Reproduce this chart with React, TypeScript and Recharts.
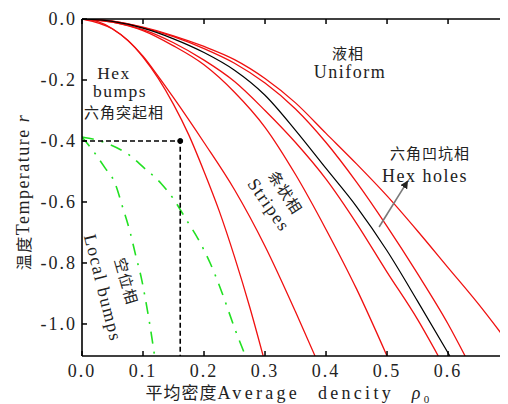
import { LineChart, Line, XAxis, YAxis, ReferenceDot } from "recharts";

// axis ticks
const xTicks = [0, 0.1, 0.2, 0.3, 0.4, 0.5, 0.6];
const yTicks = [0, -0.2, -0.4, -0.6, -0.8, -1.0];

// phase boundaries [rho0, r]
const red1 = [[0, 0], [0.025, -0.008], [0.05, -0.032], [0.075, -0.07], [0.1, -0.125], [0.125, -0.195], [0.15, -0.28], [0.175, -0.38], [0.2, -0.5], [0.225, -0.63], [0.25, -0.78], [0.275, -0.945], [0.297, -1.105]];
const red2 = [[0, 0], [0.05, -0.033], [0.1, -0.122], [0.125, -0.188], [0.15, -0.258], [0.2, -0.405], [0.25, -0.56], [0.3, -0.745], [0.35, -0.96], [0.382, -1.105]];
const red3 = [[0, 0], [0.05, -0.01], [0.1, -0.038], [0.15, -0.088], [0.2, -0.15], [0.25, -0.24], [0.3, -0.355], [0.35, -0.51], [0.4, -0.69], [0.45, -0.885], [0.5, -1.105]];
const red4 = [[0, 0], [0.05, -0.01], [0.1, -0.035], [0.15, -0.078], [0.2, -0.135], [0.25, -0.205], [0.3, -0.3], [0.35, -0.405], [0.4, -0.525], [0.45, -0.67], [0.5, -0.83], [0.55, -0.985], [0.584, -1.105]];
const blackLine = [[0, 0], [0.05, -0.008], [0.1, -0.03], [0.15, -0.065], [0.2, -0.11], [0.25, -0.168], [0.3, -0.25], [0.35, -0.365], [0.4, -0.49], [0.45, -0.615], [0.5, -0.76], [0.55, -0.925], [0.603, -1.105]];
const red5 = [[0, 0], [0.05, -0.007], [0.1, -0.028], [0.15, -0.058], [0.2, -0.097], [0.25, -0.145], [0.3, -0.21], [0.35, -0.295], [0.4, -0.405], [0.45, -0.535], [0.5, -0.68], [0.55, -0.835], [0.6, -1.0], [0.628, -1.105]];
const red6 = [[0, 0], [0.05, -0.007], [0.1, -0.027], [0.15, -0.055], [0.2, -0.09], [0.25, -0.133], [0.3, -0.195], [0.35, -0.275], [0.4, -0.375], [0.45, -0.475], [0.5, -0.58], [0.55, -0.695], [0.6, -0.815], [0.65, -0.935], [0.7, -1.065]];

// local bumps boundaries (dash-dot)
const green1 = [[0, -0.387], [0.02, -0.437], [0.038, -0.489], [0.054, -0.538], [0.066, -0.613], [0.079, -0.7], [0.088, -0.775], [0.098, -0.856], [0.105, -0.93], [0.111, -1.0], [0.119, -1.105]];
const green2 = [[0, -0.387], [0.04, -0.407], [0.08, -0.45], [0.1, -0.485], [0.13, -0.54], [0.15, -0.59], [0.17, -0.655], [0.19, -0.72], [0.21, -0.8], [0.23, -0.9], [0.25, -1.013], [0.268, -1.105]];

// guide lines
const guide = [[0, -0.4], [0.161, -0.4], [0.161, -1.105]];
const arrow = [[0.487, -0.682], [0.533, -0.534]];

const pts = (a: number[][]) => a.map(([x, y]) => ({ x, y }));

const serif = "'Liberation Serif', 'Times New Roman', 'Noto Sans CJK SC', serif";
const txt = { fontFamily: serif, fontSize: 18, letterSpacing: 1.5, fill: "#222" };
const cjk = { fontFamily: "'Noto Sans CJK SC', sans-serif", fontSize: 15, letterSpacing: 1, fill: "#222" };
const tickStyle = { fontFamily: serif, fontSize: 18, letterSpacing: 2, fill: "#222" };
const frame = { stroke: "#000", strokeWidth: 1.6 };
const tickMark = { stroke: "#000", strokeWidth: 1.5 };

const reds = [red1, red2, red3, red4, red5, red6];

export default function App() {
  return (
    <LineChart width={500} height={396} margin={{ top: 10, right: 1, bottom: 0, left: 0 }}>
      <defs>
        <marker id="arrowHead" viewBox="0 0 10 10" refX="8" refY="5" markerWidth="5" markerHeight="5" orient="auto">
          <path d="M0,0 L10,5 L0,10 z" fill="#222" />
        </marker>
      </defs>
      <XAxis
        type="number"
        dataKey="x"
        domain={[0, 0.695]}
        ticks={xTicks}
        allowDataOverflow
        tickFormatter={(v: number) => v.toFixed(1)}
        tick={tickStyle}
        tickSize={-5}
        tickMargin={13}
        height={48}
        axisLine={frame}
        tickLine={tickMark}
      />
      <XAxis
        xAxisId="top"
        orientation="top"
        type="number"
        dataKey="x"
        domain={[0, 0.695]}
        ticks={xTicks}
        allowDataOverflow
        tickFormatter={() => ""}
        tickSize={-5}
        height={1}
        axisLine={frame}
        tickLine={tickMark}
      />
      <YAxis
        type="number"
        dataKey="y"
        domain={[-1.105, 0]}
        ticks={yTicks}
        allowDataOverflow
        tickFormatter={(v: number) => v.toFixed(1)}
        tick={tickStyle}
        tickSize={-5}
        tickMargin={10}
        width={74}
        axisLine={frame}
        tickLine={tickMark}
      />
      <YAxis
        yAxisId="right"
        orientation="right"
        type="number"
        domain={[-1.105, 0]}
        ticks={yTicks}
        allowDataOverflow
        tickFormatter={() => ""}
        tickSize={-5}
        width={1}
        axisLine={frame}
        tickLine={tickMark}
      />

      {reds.map((r, i) => (
        <Line key={"r" + i} data={pts(r)} dataKey="y" type="monotone" stroke="#f01010" strokeWidth={1.3} dot={false} isAnimationActive={false} />
      ))}
      <Line data={pts(blackLine)} dataKey="y" type="monotone" stroke="#000" strokeWidth={1.2} dot={false} isAnimationActive={false} />
      <Line data={pts(green1)} dataKey="y" type="monotone" stroke="#22e022" strokeWidth={1.6} strokeDasharray="12 8 2 8" dot={false} isAnimationActive={false} />
      <Line data={pts(green2)} dataKey="y" type="monotone" stroke="#22e022" strokeWidth={1.6} strokeDasharray="12 8 2 8" dot={false} isAnimationActive={false} />
      <Line data={pts(guide)} dataKey="y" type="linear" stroke="#000" strokeWidth={1.6} strokeDasharray="5 3" dot={false} isAnimationActive={false} />
      <Line data={pts(arrow)} dataKey="y" type="linear" stroke="#7a7a7a" strokeWidth={1.6} markerEnd="url(#arrowHead)" dot={false} isAnimationActive={false} />
      <ReferenceDot x={0.161} y={-0.4} r={2.5} fill="#000" stroke="#000" />

      {/* phase labels */}
      <text x={106} y={71} textAnchor="middle" style={{ ...txt, fontSize: 17.5 }}>Hex</text>
      <text x={112} y={89} textAnchor="middle" style={{ ...txt, fontSize: 17.5 }}>bumps</text>
      <text x={116} y={110} textAnchor="middle" style={cjk}>六角突起相</text>
      <text x={340} y={51} textAnchor="middle" style={cjk}>液相</text>
      <text x={342} y={70} textAnchor="middle" style={txt}>Uniform</text>
      <text x={422} y={151} textAnchor="middle" style={cjk}>六角凹坑相</text>
      <text x={417} y={174} textAnchor="middle" style={txt}>Hex holes</text>
      <text x={278} y={184} textAnchor="middle" dominantBaseline="central" transform="rotate(57 278 184)" style={cjk}>条状相</text>
      <text x={261} y={197} textAnchor="middle" dominantBaseline="central" transform="rotate(55 261 197)" style={txt}>Stripes</text>
      <text x={119} y={273} textAnchor="middle" dominantBaseline="central" transform="rotate(74 119 273)" style={cjk}>空位相</text>
      <text x={95} y={280} textAnchor="middle" dominantBaseline="central" transform="rotate(76 95 280)" style={txt}>Local bumps</text>

      {/* axis titles */}
      <text x={15} y={184} textAnchor="middle" dominantBaseline="central" transform="rotate(-90 15 184)" style={txt}>
        <tspan style={{ fontFamily: "'Noto Sans CJK SC'", fontSize: 16 }}>温度</tspan>
        <tspan>Temperature </tspan>
        <tspan fontStyle="italic">r</tspan>
      </text>
      <text x={281} y={391} textAnchor="middle" style={{ ...txt, letterSpacing: 3.3, wordSpacing: 10 }}>
        <tspan style={{ fontFamily: "'Noto Sans CJK SC'", fontSize: 17, letterSpacing: 1 }}>平均密度</tspan>
        <tspan>Average dencity </tspan>
        <tspan fontStyle="italic">ρ</tspan>
        <tspan fontSize={11} dy={4}>0</tspan>
      </text>
    </LineChart>
  );
}
